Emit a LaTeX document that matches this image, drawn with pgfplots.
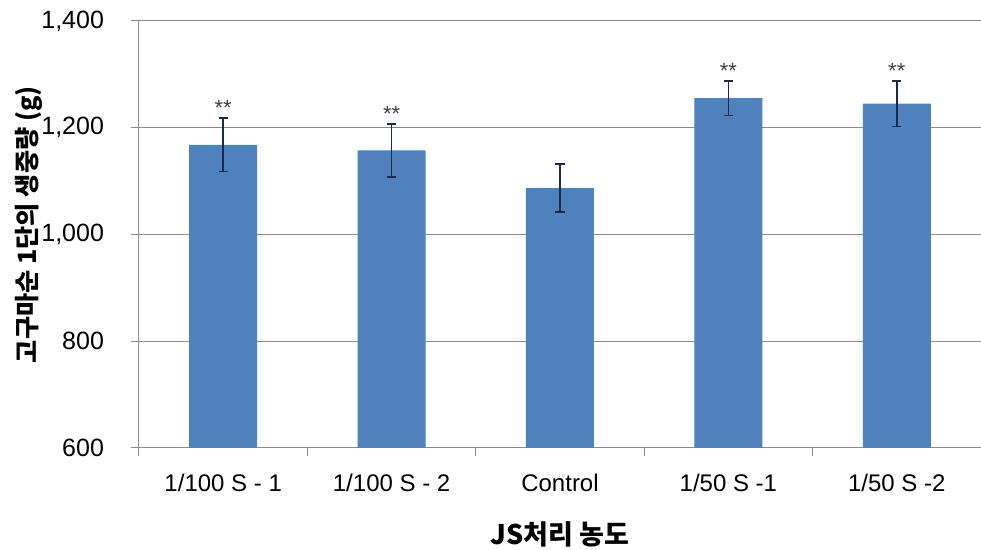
\documentclass[border=0pt]{standalone}
\usepackage{fontspec}
\setmainfont{Liberation Sans}
\newfontfamily\kr{Noto Sans CJK KR}
\usepackage{pgfplots}
\pgfplotsset{compat=1.18}
\usetikzlibrary{calc}
\definecolor{barblue}{HTML}{4F81BD}
\definecolor{gridgray}{HTML}{8C8C8C}
\definecolor{errnavy}{HTML}{1A2A4A}
\begin{document}
\begin{tikzpicture}
\begin{axis}[
  scale only axis=true,
  width=421pt, height=213.5pt,
  xmin=-0.5, xmax=4.5,
  ymin=600, ymax=1400,
  ytick={600,800,1000,1200,1400},
  xtick={0,1,2,3,4},
  xticklabels={1/100 S - 1,1/100 S - 2,Control,1/50 S -1,1/50 S -2},
  minor xtick={-0.5,0.5,1.5,2.5,3.5,4.5},
  major x tick style={draw=none},
  minor x tick style={gridgray, line width=0.5pt},
  minor tick length=4pt,
  major tick length=4pt,
  tick align=outside,
  ytick style={gridgray, line width=0.5pt},
  axis line style={gridgray, line width=0.5pt},
  axis x line*=bottom,
  axis y line*=left,
  ymajorgrids=true,
  grid style={gridgray, line width=0.5pt},
  /pgf/number format/assume math mode=true,
  /pgf/number format/1000 sep={,},
  yticklabel style={font=\fontsize{12.5}{14}\selectfont, xshift=-10pt},
  xticklabel style={font=\fontsize{12}{14}\selectfont, yshift=-5.5pt},
  xlabel={\kr\bfseries\fontsize{13.5}{15}\selectfont JS처리 농도},
  xlabel style={yshift=-8pt},
  ylabel={\kr\bfseries\fontsize{12.6}{14}\selectfont 고구마순 1단의 생중량 (g)},
  ylabel style={yshift=-7.5pt, xshift=5pt},
  clip=false,
]
\addplot[ybar, bar width=34pt, fill=barblue, draw=none,
  error bars/.cd, y dir=both, y explicit,
  error bar style={errnavy, line width=0.8pt},
  error mark options={errnavy, line width=0.8pt, mark size=2.3pt, rotate=90}]
  coordinates {
  (0,1168) +- (0,50)
  (1,1157.5) +- (0,50)
  (2,1087) +- (0,45)
  (3,1255.5) +- (0,32.5)
  (4,1245) +- (0,43)
  };
\node[above, inner sep=1pt, text=black!75, font=\fontsize{11}{12}\selectfont] at (axis cs:0,1218) {**};
\node[above, inner sep=1pt, text=black!75, font=\fontsize{11}{12}\selectfont] at (axis cs:1,1207.5) {**};
\node[above, inner sep=1pt, text=black!75, font=\fontsize{11}{12}\selectfont] at (axis cs:3,1288) {**};
\node[above, inner sep=1pt, text=black!75, font=\fontsize{11}{12}\selectfont] at (axis cs:4,1288) {**};
\end{axis}
\pgfresetboundingbox
\path ($(current axis.south west)+(-69.5pt,-51pt)$) rectangle ($(current axis.north east)+(0,10.5pt)$);
\end{tikzpicture}
\end{document}
